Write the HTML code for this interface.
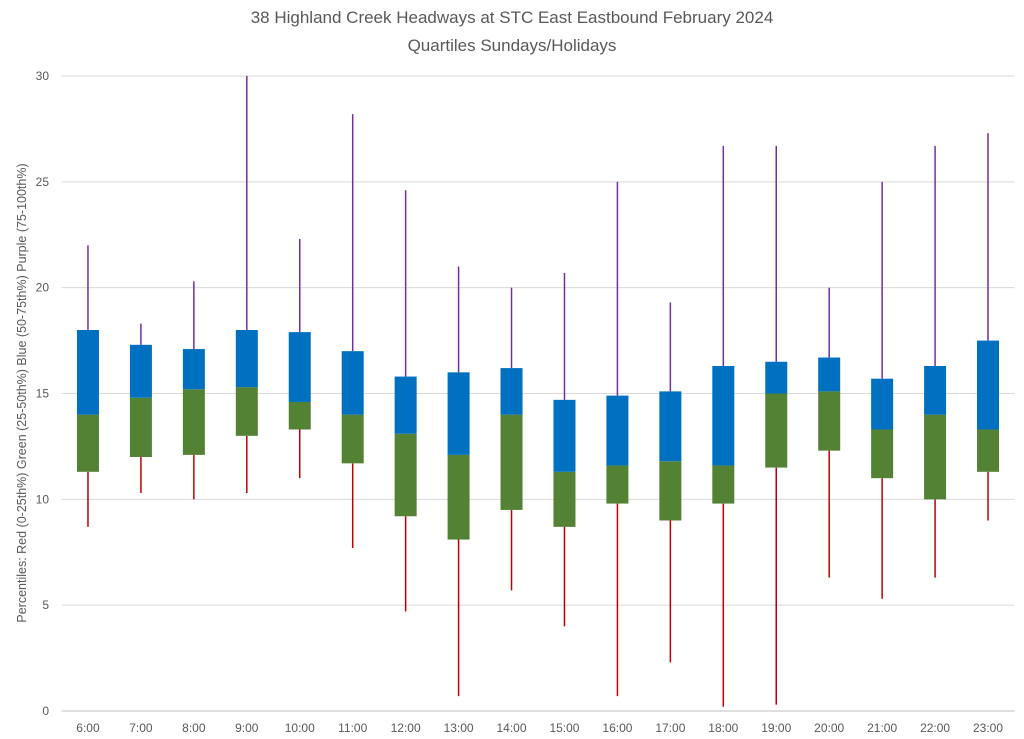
<!DOCTYPE html>
<html><head><meta charset="utf-8"><style>
body{margin:0;background:#fff;}
svg{display:block;font-family:"Liberation Sans",sans-serif;}
</style></head><body>
<svg id="chart" width="1024" height="739">
<text x="512" y="23" text-anchor="middle" font-size="17" fill="#595959">38 Highland Creek Headways at STC East Eastbound February 2024</text>
<text x="512" y="51" text-anchor="middle" font-size="17" fill="#595959">Quartiles Sundays/Holidays</text>
<text transform="translate(26,393) rotate(-90)" text-anchor="middle" font-size="12.5" fill="#595959">Percentiles:  Red (0-25th%)  Green (25-50th%)  Blue (50-75th%)  Purple (75-100th%)</text>
<g id="grid"></g><g id="marks"></g><g id="labels"></g>
</svg>
<script>
const categories=["6:00","7:00","8:00","9:00","10:00","11:00","12:00","13:00","14:00","15:00","16:00","17:00","18:00","19:00","20:00","21:00","22:00","23:00"];
const minVals=[8.7,10.3,10.0,10.3,11.0,7.7,4.7,0.7,5.7,4.0,0.7,2.3,0.2,0.3,6.3,5.3,6.3,9.0];
const q1Vals=[11.3,12.0,12.1,13.0,13.3,11.7,9.2,8.1,9.5,8.7,9.8,9.0,9.8,11.5,12.3,11.0,10.0,11.3];
const medVals=[14.0,14.8,15.2,15.3,14.6,14.0,13.1,12.1,14.0,11.3,11.6,11.8,11.6,15.0,15.1,13.3,14.0,13.3];
const q3Vals=[18.0,17.3,17.1,18.0,17.9,17.0,15.8,16.0,16.2,14.7,14.9,15.1,16.3,16.5,16.7,15.7,16.3,17.5];
const maxVals=[22.0,18.3,20.3,30.0,22.3,28.2,24.6,21.0,20.0,20.7,25.0,19.3,26.7,26.7,20.0,25.0,26.7,27.3];
const yTicks=[0,5,10,15,20,25,30];
const NS="http://www.w3.org/2000/svg";
const L=61.5,R=1014.5,Y0=711,Y30=76;
const y=v=>Y0-(v/30)*(Y0-Y30);
const bw=(R-L)/categories.length;
const x=i=>L+bw*(i+0.5);
function mk(t,a,p){const e=document.createElementNS(NS,t);for(const k in a)e.setAttribute(k,a[k]);p.appendChild(e);return e;}
const grid=document.getElementById('grid'),marks=document.getElementById('marks'),labels=document.getElementById('labels');
yTicks.forEach(t=>{
 const l=mk('line',{x1:L,x2:R,y1:y(t),y2:y(t),stroke:t===0?'#bfbfbf':'#d9d9d9','stroke-width':1},grid);
 
 
 const tx=mk('text',{x:49,y:y(t)+4,'text-anchor':'end','font-size':12,fill:'#595959'},labels);
 tx.textContent=t;
 
 
});
categories.forEach((c,i)=>{
 const cx=x(i),w=22;
 const lo=mk('line',{x1:cx,x2:cx,y1:y(minVals[i]),y2:y(q1Vals[i]),stroke:'#c00000','stroke-width':1.5},marks);
 
 
 const hi=mk('line',{x1:cx,x2:cx,y1:y(maxVals[i]),y2:y(q3Vals[i]),stroke:'#7030a0','stroke-width':1.5},marks);
 
 
 const g=mk('rect',{x:cx-w/2,y:y(medVals[i]),width:w,height:y(q1Vals[i])-y(medVals[i]),fill:'#548235'},marks);
 
 
 const b=mk('rect',{x:cx-w/2,y:y(q3Vals[i]),width:w,height:y(medVals[i])-y(q3Vals[i]),fill:'#0070c0'},marks);
 
 
 const tx=mk('text',{x:cx,y:732,'text-anchor':'middle','font-size':12,fill:'#595959'},labels);
 tx.textContent=c;
 
 
});
</script>
</body></html>
